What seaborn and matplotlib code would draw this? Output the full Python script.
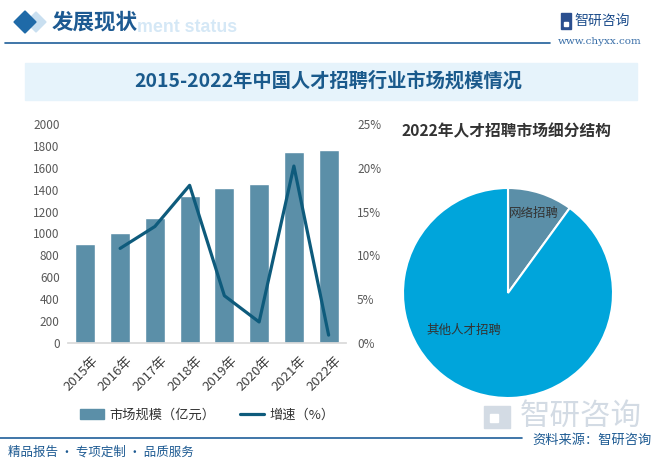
import matplotlib
matplotlib.use("Agg")
import matplotlib.pyplot as plt
import matplotlib.transforms as mtransforms
import seaborn as sns
import numpy as np
import pandas as pd
from matplotlib.patches import Rectangle, Polygon
from matplotlib.lines import Line2D

# ---- data ----
years = ["2015年", "2016年", "2017年", "2018年", "2019年", "2020年", "2021年", "2022年"]
market_size = [905, 1006, 1137, 1343, 1416, 1453, 1745, 1763]          # 亿元
growth = [np.nan, 10.8, 13.3, 18.0, 5.4, 2.4, 20.2, 0.9]                 # %
pie_labels = ["网络招聘", "其他人才招聘"]
pie_values = [10.0, 90.0]
left_ticks = [0, 200, 400, 600, 800, 1000, 1200, 1400, 1600, 1800, 2000]
right_ticks = [0, 5, 10, 15, 20, 25]

sns.set_theme(style="white")
plt.rcParams['font.family'] = ['Noto Sans CJK SC', 'DejaVu Sans']
plt.rcParams['axes.unicode_minus'] = False

W, H = 669, 468
fig = plt.figure(figsize=(W / 100, H / 100), dpi=100)
fig.patch.set_facecolor("white")

def fx(x):
    return x / W

def fy(y):
    return 1 - y / H

BAR_C = "#5b8fa8"
LINE_C = "#0e5b7c"
PIE_C2 = "#00a5db"
TXT_GRAY = "#595959"
DARK_BLUE = "#1d5a92"

# ---- header ----
fig.text(fx(237), fy(27), "ment status", ha="right", va="center", fontsize=12.8,
         fontweight="bold", color="#d5e8f6", family=["Liberation Sans"], zorder=1)
fig.patches.append(Polygon([[fx(36), fy(12)], [fx(46), fy(22)], [fx(36), fy(32)], [fx(26), fy(22)]],
                           closed=True, transform=fig.transFigure, color="#c9dff0", zorder=2))
fig.patches.append(Polygon([[fx(25), fy(11)], [fx(36), fy(22)], [fx(25), fy(33)], [fx(14), fy(22)]],
                           closed=True, transform=fig.transFigure, color="#1f6aa8", zorder=3))
fig.text(fx(52), fy(22), "发展现状", ha="left", va="center", fontsize=15.5, fontweight="bold",
         color=DARK_BLUE, zorder=4)
fig.lines.append(Line2D([fx(5), fx(550)], [fy(43), fy(43)], transform=fig.transFigure,
                        color="#1f5f99", linewidth=1.2))
# logo top right
fig.patches.append(Rectangle((fx(561), fy(29)), 10 / W, 16 / H, transform=fig.transFigure,
                             color="#2b4f8f", zorder=3))
fig.patches.append(Rectangle((fx(564), fy(26)), 4 / W, 4 / H, transform=fig.transFigure,
                             color="white", zorder=4))
fig.text(fx(574), fy(21), "智研咨询", ha="left", va="center", fontsize=10, color="#1e4e8c")
fig.text(fx(600), fy(42), "www.chyxx.com", ha="center", va="center", fontsize=7.5,
         color="#3a6fa8", family=["DejaVu Serif"])

# ---- title band ----
fig.patches.append(Rectangle((fx(25), fy(100)), (637 - 25) / W, (100 - 63) / H,
                             transform=fig.transFigure, color="#e6f3fb", zorder=0))
fig.text(fx(328), fy(81), "2015-2022年中国人才招聘行业市场规模情况", ha="center", va="center",
         fontsize=13.9, fontweight="bold", color="#1a5a8c")

# ---- bar + line chart ----
ax = fig.add_axes([fx(68), fy(343), (346 - 68) / W, (343 - 124) / H])
df = pd.DataFrame({"year": years, "size": market_size, "growth": growth})
sns.barplot(data=df, x="year", y="size", color=BAR_C, saturation=1, width=0.58, ax=ax)
ax.set_ylim(0, 2000)
ax.set_xlim(-0.5, 7.5)
ax.set_yticks(left_ticks)
ax.set_yticklabels([str(t) for t in left_ticks], fontsize=8.5, color=TXT_GRAY)
ax.set_xlabel("")
ax.set_ylabel("")
ax.set_xticks(range(len(years)))
ax.set_xticklabels(years, rotation=45, ha="right", va="top", rotation_mode="anchor",
                   fontsize=9.5, color="#404040")
ax.tick_params(axis="both", length=0, pad=6)
ax.tick_params(axis="x", pad=8)
shift = mtransforms.ScaledTranslation(6 / 100, 0, fig.dpi_scale_trans)
for lbl in ax.get_xticklabels():
    lbl.set_transform(lbl.get_transform() + shift)
for s in ["top", "right", "left"]:
    ax.spines[s].set_visible(False)
ax.spines["bottom"].set_color("#d9d9d9")
ax.set_facecolor("none")

ax2 = ax.twinx()
sns.lineplot(x=np.arange(len(years)), y=df["growth"], ax=ax2, color=LINE_C, linewidth=2.3)
ax2.set_ylim(0, 25)
ax2.set_yticks(right_ticks)
ax2.set_yticklabels([f"{t}%" for t in right_ticks], fontsize=8.5, color=TXT_GRAY)
ax2.tick_params(axis="y", length=0, pad=8)
ax2.set_ylabel("")
for s in ["top", "right", "left", "bottom"]:
    ax2.spines[s].set_visible(False)

handles = [Rectangle((0, 0), 1, 1, color=BAR_C), Line2D([0], [0], color=LINE_C, linewidth=2.3)]
fig.legend(handles, ["市场规模（亿元）", "增速（%）"], loc="center", bbox_to_anchor=(fx(207), fy(415)),
           ncol=2, frameon=False, fontsize=9.5, handlelength=1.8, handletextpad=0.4,
           columnspacing=1.9, labelcolor="#333333")

# ---- pie ----
fig.text(fx(507), fy(131), "2022年人才招聘市场细分结构", ha="center", va="center",
         fontsize=11.3, fontweight="bold", color="#333333")
pax = fig.add_axes([fx(403), fy(398), 210 / W, 210 / H])
pax.pie(pie_values, colors=[BAR_C, PIE_C2], startangle=90, counterclock=False,
        wedgeprops=dict(edgecolor="white", linewidth=1.5))
pax.set_xlim(-1.0, 1.0)
pax.set_ylim(-1.0, 1.0)
pax.set_aspect("equal")
fig.text(fx(534), fy(214), pie_labels[0], ha="center", va="center", fontsize=9, color="#333333")
fig.text(fx(464), fy(330), pie_labels[1], ha="center", va="center", fontsize=9, color="#333333")

# ---- footer ----
fig.patches.append(Rectangle((fx(484), fy(428)), 26 / W, 22 / H, transform=fig.transFigure,
                             color="#d3dbe4", zorder=0))
fig.patches.append(Rectangle((fx(490), fy(422)), 8 / W, 8 / H, transform=fig.transFigure,
                             color="white", zorder=0.5))
fig.text(fx(581), fy(416), "智研咨询", ha="center", va="center", fontsize=22, color="#d3dbe4", zorder=0)
fig.lines.append(Line2D([fx(0), fx(522)], [fy(438), fy(438)], transform=fig.transFigure,
                        color="#1f5f99", linewidth=1.2))
fig.text(fx(8), fy(452), "精品报告 · 专项定制 · 品质服务", ha="left", va="center", fontsize=9,
         color=DARK_BLUE)
fig.text(fx(652), fy(440), "资料来源：智研咨询", ha="right", va="center", fontsize=9.5,
         color=DARK_BLUE)

fig.savefig("out.png", dpi=100, facecolor="white")
